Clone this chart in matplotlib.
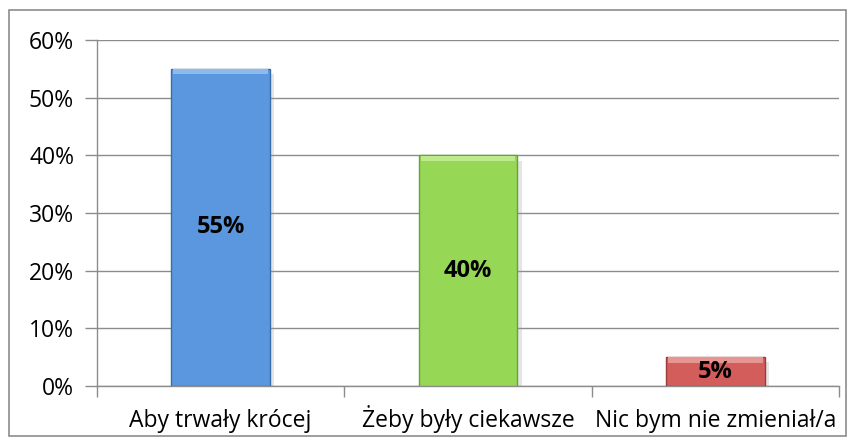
import matplotlib.pyplot as plt
import matplotlib.patches as mpatches
from matplotlib.ticker import FuncFormatter, FixedLocator
import matplotlib.transforms as mtransforms
import numpy as np

categories = ['Aby trwały krócej', 'Żeby były ciekawsze', 'Nic bym nie zmieniał/a']
values = [55, 40, 5]
labels = ['55%', '40%', '5%']
colors = ['#5B97DE', '#96D855', '#D35D5B']
tops = ['#8DBBEE', '#BDEB8C', '#E79592']
edges = ['#3A6DAA', '#6AA232', '#9A3B3A']

plt.rcParams['font.family'] = ['Open Sans', 'DejaVu Sans']

W, H = 855, 447
fig = plt.figure(figsize=(W / 100, H / 100), dpi=100)

# outer chart border
fig.patches.append(mpatches.Rectangle((9 / W, 1 - 436 / H), (846 - 9) / W, (436 - 10) / H,
                                      transform=fig.transFigure, fill=False,
                                      edgecolor='#8c8c8c', linewidth=1.2))

ax = fig.add_axes([97 / W, 1 - 386 / H, (839 - 97) / W, (386 - 40) / H])

x = np.arange(len(categories))
width = 0.4
# soft shadow
ax.bar(x + 0.012, values, width + 0.01, bottom=-0.9, color='#999999', alpha=0.25, zorder=2)
bars = ax.bar(x, values, width, color=colors, edgecolor=edges, linewidth=1.0, zorder=3)
# light bevel on top of each bar
ax.bar(x, 0.9, width * 0.96, bottom=np.array(values) - 0.95, color=tops,
       linewidth=0, zorder=3.5)

for b, lab in zip(bars, labels):
    ax.text(b.get_x() + b.get_width() / 2, b.get_height() / 2, lab,
            ha='center', va='center', fontsize=17, fontweight='bold', zorder=4)

ax.set_xlim(-0.5, len(categories) - 0.5)
ax.set_ylim(0, 60)
ax.set_yticks(np.arange(0, 61, 10))
ax.yaxis.set_major_formatter(FuncFormatter(lambda v, p: f'{int(v)}%'))
ax.yaxis.grid(True, color='#8c8c8c', linewidth=1.0, zorder=0)
ax.set_axisbelow(True)

# category labels, baseline aligned
ax.set_xticks(x)
ax.set_xticklabels([])
trans = mtransforms.blended_transform_factory(ax.transData, ax.transAxes)
for xi, cat in zip(x, categories):
    ax.text(xi, -41 / 346, cat, transform=trans, ha='center', va='baseline', fontsize=16.5)

ax.xaxis.set_minor_locator(FixedLocator(np.arange(-0.5, len(categories), 1.0)))
ax.tick_params(axis='x', which='major', length=0)
ax.tick_params(axis='x', which='minor', length=8, color='#8c8c8c', width=1.0)
ax.tick_params(axis='y', length=9, color='#8c8c8c', width=1.0, labelsize=16.5, pad=7.5)

for s in ['top', 'right']:
    ax.spines[s].set_visible(False)
for s in ['left', 'bottom']:
    ax.spines[s].set_color('#8c8c8c')
    ax.spines[s].set_linewidth(1.0)

fig.savefig('out.png', dpi=100)
